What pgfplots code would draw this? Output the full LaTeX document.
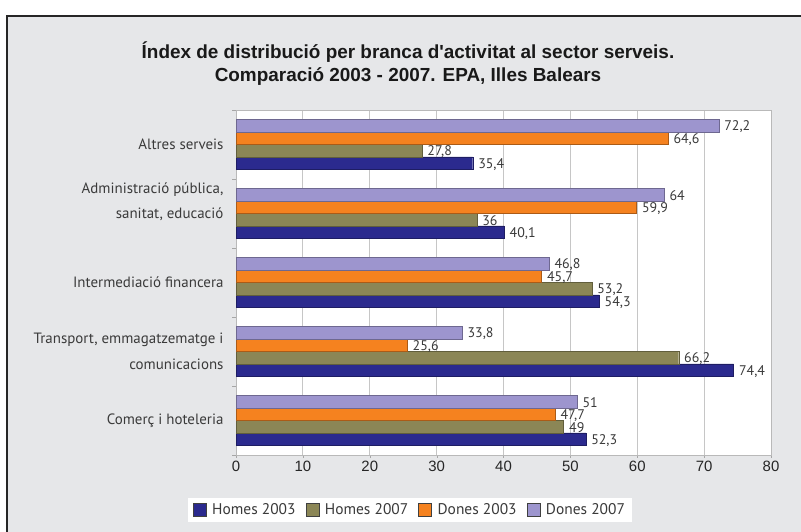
\documentclass[border=0pt]{standalone}
\usepackage{pgfplots}
\pgfplotsset{compat=1.18}
\usepackage{fontspec}
\setmainfont{PT Sans}
\newfontfamily\arialf{Liberation Sans}
\definecolor{bg}{HTML}{E6E7E9}
\definecolor{hthree}{HTML}{2B2A8E}
\definecolor{hseven}{HTML}{8B8656}
\definecolor{dthree}{HTML}{F5821F}
\definecolor{dseven}{HTML}{9D95CE}
\definecolor{txt}{HTML}{3A3A3A}
\begin{document}
\begin{tikzpicture}[x=1bp,y=1bp]
\fill[white] (0,0) rectangle (801,532);
\useasboundingbox (0,0) rectangle (801,532);
\fill[bg] (7,0) rectangle (801,516);
\draw[line width=2.2bp, black!85] (7,0) -- (7,516) -- (801,516);
\node[font=\arialf\bfseries\fontsize{19}{23}\selectfont, align=center, text=black!90] at (408,468) {Índex de distribució per branca d'activitat al sector serveis.\\Comparació 2003 - 2007. EPA, Illes Balears};
\begin{axis}[
  at={(236bp,77bp)}, anchor=south west,
  scale only axis, width=535bp, height=345bp,
  xmin=0, xmax=80, ymin=-0.5, ymax=4.5,
  xtick={0,10,...,80},
  ytick={0,1,2,3.17,4},
  yticklabels={Comerç i hoteleria, {Transport, emmagatzematge i\\comunicacions}, Intermediació financera, {Administració pública,\\sanitat, educació}, Altres serveis},
  y tick label style={font=\fontsize{15}{26}\selectfont, text=txt, align=right, xshift=-6bp},
  x tick label style={font=\arialf\fontsize{15}{18}\selectfont, text=black!85, /pgf/number format/assume math mode=true},
  minor ytick={-0.5,0.5,1.5,2.5,3.5,4.5},
  major y tick style={draw=none},
  minor y tick style={gray!70},
  minor tick length=4bp,
  major tick length=3bp,
  tick align=outside,
  x tick style={gray!70},
  xtick pos=bottom, ytick pos=left,
  xmajorgrids, grid style={gray!45, line width=0.8bp},
  axis line style={gray!55},
  axis background/.style={fill=white},
  xbar, bar width=12.5bp,
  point meta=x,
  nodes near coords={\pgfmathprintnumber[use comma,fixed,precision=1,assume math mode=true]{\pgfplotspointmeta}},
  every node near coord/.append style={font=\fontsize{14}{16}\selectfont, text=txt, anchor=west, xshift=2bp, yshift=-1bp},
  legend style={at={(0.325,-0.159)}, anchor=center, legend columns=4, draw=none, fill=white, font=\fontsize{15.5}{17}\selectfont, text=txt, inner xsep=5bp, inner ysep=4bp, /tikz/every odd column/.append style={column sep=4bp}, /tikz/every even column/.append style={column sep=8bp}},
  legend image code/.code={\draw[#1, draw=black!75] (0bp,-6.5bp) rectangle (13bp,6.5bp);},
]
\addplot[fill=hthree, draw=hthree!70!black, bar shift=-18.75bp] coordinates {(52.3,0) (74.4,1) (54.3,2) (40.1,3) (35.4,4)};
\addplot[fill=hseven, draw=hseven!70!black, bar shift=-6.25bp] coordinates {(49,0) (66.2,1) (53.2,2) (36,3) (27.8,4)};
\addplot[fill=dthree, draw=dthree!70!black, bar shift=6.25bp] coordinates {(47.7,0) (25.6,1) (45.7,2) (59.9,3) (64.6,4)};
\addplot[fill=dseven, draw=dseven!70!black, bar shift=18.75bp] coordinates {(51,0) (33.8,1) (46.8,2) (64,3) (72.2,4)};
\legend{Homes 2003, Homes 2007, Dones 2003, Dones 2007}
\end{axis}
\end{tikzpicture}
\end{document}
